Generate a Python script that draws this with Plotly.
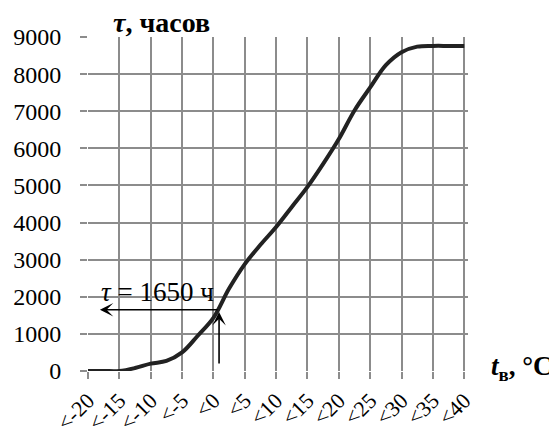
import plotly.graph_objects as go

temps = [-20, -17.5, -15, -12.5, -10, -7.5, -5, -2.5, 0, 2.5, 5, 7.5, 10,
         12.5, 15, 17.5, 20, 22.5, 25, 27.5, 30, 32.5, 35, 37.5, 40]
hours = [0, 0, 0, 80, 200, 270, 500, 950, 1430, 2220, 2880, 3400, 3880,
         4420, 4960, 5580, 6250, 7020, 7640, 8240, 8590, 8740, 8760, 8760, 8760]
tick_vals = [-20, -15, -10, -5, 0, 5, 10, 15, 20, 25, 30, 35, 40]
tick_labels = ["&lt;-20", "&lt;-15", "&lt;-10", "&lt;-5", "&lt;0", "&lt;5", "&lt;10",
               "&lt;15", "&lt;20", "&lt;25", "&lt;30", "&lt;35", "&lt;40"]
y_ticks = [0, 1000, 2000, 3000, 4000, 5000, 6000, 7000, 8000, 9000]

# Marked point
t_mark = 0.9
tau_mark = 1650
arrow_left_x = -18.1
arrow_base_y = 160

FONT = "Liberation Serif, Times New Roman, serif"
GRID = "#8c8c8c"

# page body has an 8px default margin -> work in window pixels, subtract offset
OFF = 8
W, H = 557 - OFF, 437 - OFF
ML, MT = 88 - OFF, 37 - OFF
PW, PH = 380, 334
MR, MB = W - ML - PW, H - MT - PH


def px_to_paper(px, py):
    return (px - OFF - ML) / PW, 1 - (py - OFF - MT) / PH


fig = go.Figure()
fig.add_trace(go.Scatter(
    x=temps, y=hours, mode="lines",
    line=dict(color="#222222", width=4, shape="spline", smoothing=1.0),
    hoverinfo="skip", showlegend=False,
))

# Horizontal arrow (towards the tau axis)
fig.add_annotation(
    x=arrow_left_x, y=tau_mark, ax=t_mark, ay=tau_mark,
    xref="x", yref="y", axref="x", ayref="y",
    showarrow=True, arrowhead=3, arrowsize=1.4, arrowwidth=1.6,
    arrowcolor="#000000", text="",
)
# Vertical arrow (from the temperature axis up to the curve)
fig.add_annotation(
    x=t_mark, y=tau_mark - 60, ax=t_mark, ay=arrow_base_y,
    xref="x", yref="y", axref="x", ayref="y",
    showarrow=True, arrowhead=3, arrowsize=1.4, arrowwidth=1.6,
    arrowcolor="#000000", text="",
)
# Label for the marked value
fig.add_annotation(
    x=arrow_left_x - 0.1, y=tau_mark, xref="x", yref="y",
    xanchor="left", yanchor="bottom", yshift=1,
    text=f"<i>τ</i> = {tau_mark} ч", showarrow=False,
    font=dict(family=FONT, size=27, color="#000000"),
)
# Axis titles
tx, ty = px_to_paper(161, 22)
fig.add_annotation(
    x=tx, y=ty, xref="paper", yref="paper", showarrow=False,
    xanchor="center", yanchor="middle",
    text="<b><i>τ</i>, часов</b>",
    font=dict(family=FONT, size=28, color="#000000"),
)
tx, ty = px_to_paper(522, 368)
fig.add_annotation(
    x=tx, y=ty, xref="paper", yref="paper", showarrow=False,
    xanchor="center", yanchor="middle",
    text="<b><i>t</i><sub>в</sub>, °C</b>",
    font=dict(family=FONT, size=27, color="#000000"),
)

fig.update_layout(
    width=W, height=H,
    margin=dict(l=ML, r=MR, t=MT, b=MB, autoexpand=False),
    paper_bgcolor="white", plot_bgcolor="white",
    font=dict(family=FONT, size=24, color="#000000"),
    xaxis=dict(
        range=[-20, 40.6], tickmode="array", tickvals=tick_vals, ticktext=tick_labels,
        tickangle=-45, showgrid=True, gridcolor=GRID, gridwidth=2,
        ticks="outside", ticklen=7, tickcolor=GRID, tickwidth=2,
        zeroline=False, showline=False, tickfont=dict(size=22), automargin=False,
    ),
    yaxis=dict(
        range=[0, 9000], tickmode="array", tickvals=y_ticks,
        showgrid=True, gridcolor=GRID, gridwidth=2,
        ticks="outside", ticklen=7, tickcolor=GRID, tickwidth=2,
        zeroline=False, showline=False, ticklabelstandoff=14, automargin=False,
    ),
)

fig.write_html("out.html")
